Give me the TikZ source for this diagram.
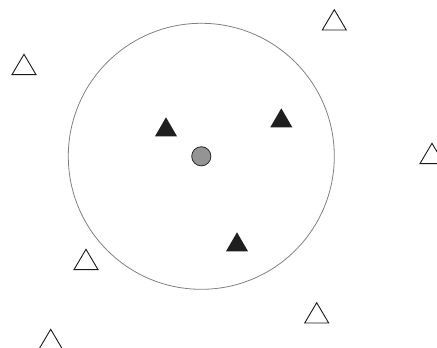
\documentclass[tikz,border=0pt]{standalone}
\begin{document}
\begin{tikzpicture}[x=1pt,y=-1pt,
  opentri/.style={draw=black!90,line width=0.9pt,fill=white,line join=miter},
  filltri/.style={fill=black!88,draw=none},
  ring/.style={draw=black!50,line width=0.8pt},
  dot/.style={draw=black!85,line width=0.8pt,fill=black!42}]
\useasboundingbox (0,0) rectangle (437,348);
% big circle
\draw[ring] (201.3,156.3) circle (133);
% centre dot
\draw[dot] (201.3,156.3) circle (9.6);
% filled triangles (apex, base)
\fill[filltri] (166,117.3) -- (177,136.3) -- (155,136.3) -- cycle;
\fill[filltri] (281.3,108.3) -- (292.3,127.3) -- (270.3,127.3) -- cycle;
\fill[filltri] (237,232.3) -- (248,251.3) -- (226,251.3) -- cycle;
% open triangles
\draw[opentri] (334.3,9.7) -- (346.3,30) -- (322.3,30) -- cycle;
\draw[opentri] (24,54.3) -- (36,74.6) -- (12,74.6) -- cycle;
\draw[opentri] (432,143.3) -- (444,163.6) -- (420,163.6) -- cycle;
\draw[opentri] (86,249.3) -- (98,269.6) -- (74,269.6) -- cycle;
\draw[opentri] (316.7,302.7) -- (328.7,323) -- (304.7,323) -- cycle;
\draw[opentri] (50.7,329.3) -- (62.7,349.6) -- (38.7,349.6) -- cycle;
\end{tikzpicture}
\end{document}
